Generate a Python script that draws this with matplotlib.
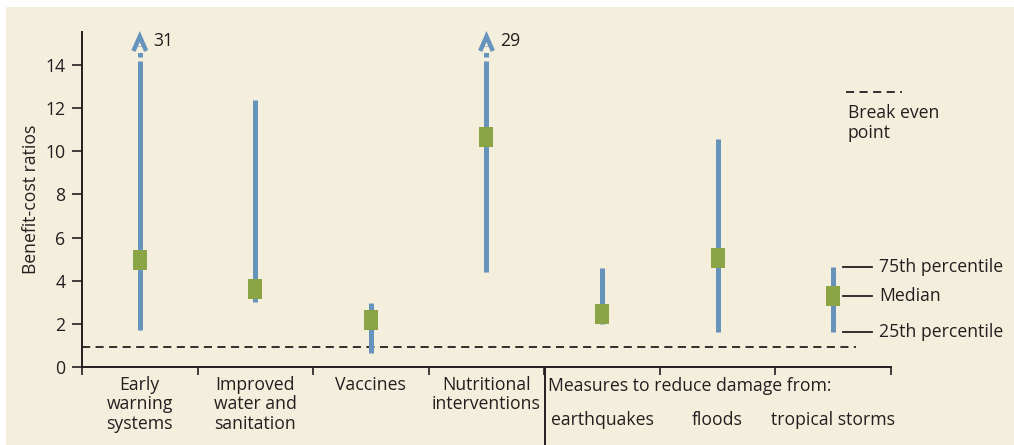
import matplotlib
matplotlib.use("Agg")
import matplotlib.pyplot as plt
from matplotlib.patches import Rectangle
from matplotlib.lines import Line2D

plt.rcParams["font.family"] = ["Open Sans", "DejaVu Sans"]

# Benefit-cost ratios per intervention: 25th percentile, median, 75th percentile
categories = ["Early\nwarning\nsystems", "Improved\nwater and\nsanitation", "Vaccines",
              "Nutritional\ninterventions", "earthquakes", "floods", "tropical storms"]
p25 = [1.72, 3.0, 0.65, 4.4, 2.0, 1.63, 1.6]
median = [4.96, 3.6, 2.2, 10.67, 2.45, 5.06, 3.3]
p75 = [14.2, 12.4, 2.95, 14.2, 4.6, 10.55, 4.65]
# off-scale upper values, shown with an arrow
off_scale = {0: "31", 3: "29"}
break_even = 0.93
yticks = [0, 2, 4, 6, 8, 10, 12, 14]

BLUE = "#6693BC"
GREEN = "#8AA446"
CREAM = "#F3EFDC"
INK = "#231F20"
FS = 12.7

W, H = 1014, 445
fig = plt.figure(figsize=(W / 100, H / 100), dpi=100, facecolor="white")
fig.patches.append(Rectangle((6 / W, 0), 1, 1 - 7 / H, transform=fig.transFigure,
                             facecolor=CREAM, edgecolor="none", zorder=-10))

ax = fig.add_axes([82 / W, (H - 367) / H, (891 - 82) / W, (367 - 32) / H])
ax.set_facecolor("none")
ax.set_xlim(0, len(categories))
ax.set_ylim(0, 15.53)

for s in ["top", "right"]:
    ax.spines[s].set_visible(False)
for s in ["left", "bottom"]:
    ax.spines[s].set_color(INK)
    ax.spines[s].set_linewidth(1.4)

ax.set_yticks(yticks)
ax.tick_params(axis="y", direction="out", length=7, width=1.2, color=INK,
               labelsize=FS, labelcolor=INK, pad=5)
ax.set_xticks(range(len(categories) + 1))
ax.set_xticklabels([])
ax.tick_params(axis="x", direction="out", length=6, width=1.2, color=INK)
ax.set_ylabel("Benefit-cost ratios", fontsize=FS, color=INK, labelpad=4)

ax.plot([0, 6.70], [break_even, break_even], color=INK, lw=1.3,
        dashes=(4.5, 3), zorder=1)

xs = [i + 0.5 for i in range(len(categories))]
bw, bh = 14 / ((891 - 82) / len(categories)), 20 / ((367 - 32) / 15.53)
for i, x in enumerate(xs):
    ax.plot([x, x], [p25[i], p75[i]], color=BLUE, lw=3.6, solid_capstyle="butt", zorder=2)
    ax.add_patch(Rectangle((x - bw / 2, median[i] - bh / 2), bw, bh,
                           facecolor=GREEN, edgecolor="none", zorder=3))
    if i in off_scale:
        ax.plot([x, x], [p75[i] + 0.15, 14.9], color=BLUE, lw=3.6,
                dashes=(0.9, 1.2), zorder=2)
        ax.plot([x - 0.055, x, x + 0.055], [14.65, 15.32, 14.65], color=BLUE,
                lw=3.2, solid_joinstyle="miter", solid_capstyle="butt",
                clip_on=False, zorder=2)
        ax.text(x + 0.12, 15.1, off_scale[i], fontsize=FS, color=INK,
                ha="left", va="center")

# category labels under the axis
for i in range(4):
    ax.text(xs[i], -0.4, categories[i], fontsize=FS, color=INK, ha="center",
            va="top", linespacing=1.12, clip_on=False)
ax.text(4.03, -0.45, "Measures to reduce damage from:", fontsize=FS, color=INK,
        ha="left", va="top", clip_on=False)
for i in range(4, 7):
    ax.text(xs[i], -2.05, categories[i], fontsize=FS, color=INK,
            ha="center", va="top", clip_on=False)

# separator below the axis for the hazard group
fig.add_artist(Line2D([545 / W, 545 / W], [0, (H - 367) / H], color=INK, lw=1.4))

# key
ax.plot([6.61, 7.095], [12.75, 12.75], color=INK, lw=1.3, dashes=(4.5, 3),
        clip_on=False)
ax.text(6.625, 12.2, "Break even\npoint", fontsize=FS, color=INK, ha="left",
        va="top", linespacing=1.12, clip_on=False)
for y, lab in [(p75[6], "75th percentile"), (median[6], "Median"), (p25[6], "25th percentile")]:
    ax.plot([6.585, 6.836], [y, y], color=INK, lw=1.3, clip_on=False)
    ax.text(6.9, y, lab, fontsize=FS, color=INK, ha="left", va="center",
            clip_on=False)

fig.savefig("out.png", dpi=100, facecolor="white")
